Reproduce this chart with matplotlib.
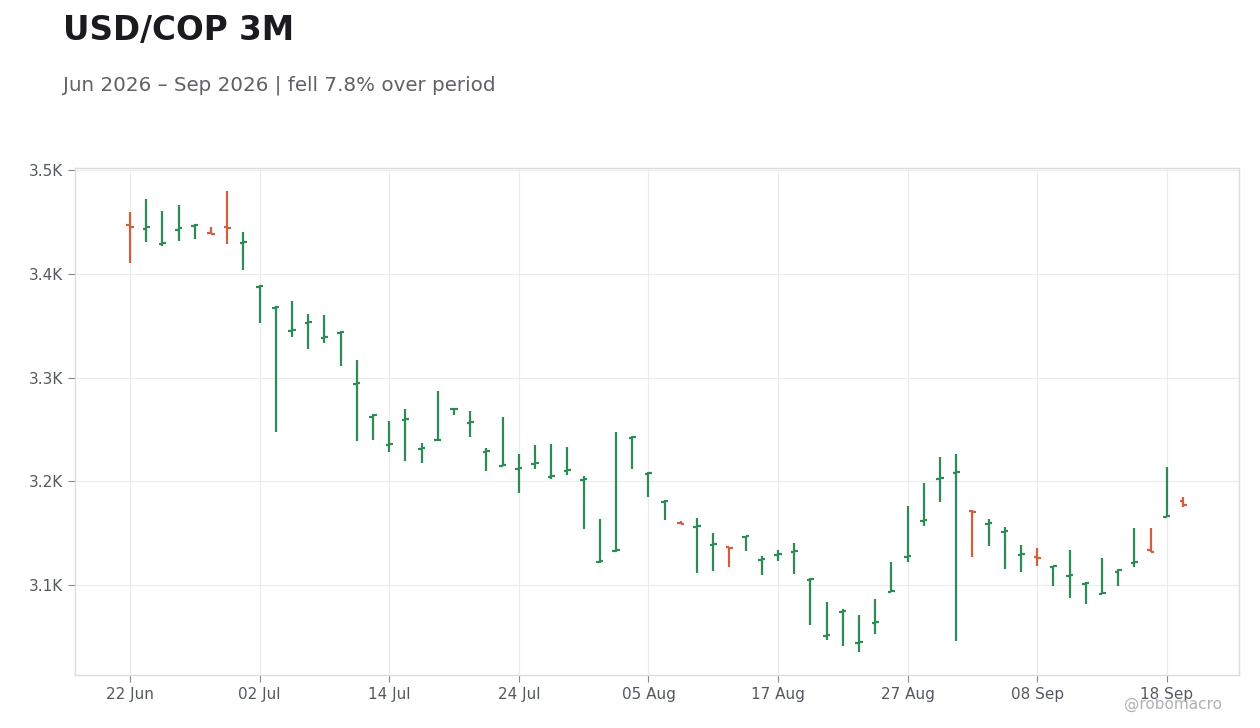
import matplotlib
matplotlib.use("Agg")
import matplotlib.pyplot as plt
import pandas as pd

# business days, 22 Jun 2026 .. 21 Sep 2026
dates = pd.bdate_range("2026-06-22", periods=66)

opens = [3447, 3443, 3429, 3442, 3446, 3439.5, 3445, 3430, 3387, 3367,
         3345, 3353, 3338, 3343, 3294, 3262, 3235, 3259, 3231.5, 3239.5,
         3269.5, 3256, 3228, 3215, 3212, 3216.5, 3204, 3210, 3201, 3122,
         3133, 3242, 3207, 3180, 3160, 3155.5, 3139, 3136.5, 3146, 3124,
         3129, 3132, 3105, 3051, 3074, 3044, 3063, 3093.5, 3127, 3161.5,
         3202, 3208, 3171, 3159, 3151.5, 3128.5, 3127, 3117, 3109, 3101,
         3091, 3113, 3121, 3133.5, 3166, 3181.5]
highs = [3460, 3472, 3461, 3466, 3448, 3445, 3480, 3440, 3389, 3369,
         3374, 3361, 3360, 3345, 3317, 3264.5, 3258, 3270, 3237, 3287,
         3271, 3268, 3232, 3262, 3226, 3235, 3236, 3233, 3205, 3164,
         3248, 3244, 3209, 3182, 3162, 3165, 3150, 3137, 3147, 3128,
         3134, 3141, 3107, 3084, 3077, 3071, 3086.5, 3122, 3176, 3198,
         3223, 3226, 3172, 3164, 3156, 3139, 3136, 3118, 3134, 3103,
         3126, 3115, 3155, 3155, 3214, 3185]
lows = [3410.5, 3431, 3427, 3432, 3434, 3438, 3429, 3404, 3353, 3248,
        3339, 3328, 3333, 3311, 3239, 3240, 3228.5, 3220, 3218, 3239,
        3264, 3243, 3210, 3215, 3189, 3212, 3202.5, 3206, 3154, 3121,
        3132, 3212, 3185, 3163, 3158.5, 3112, 3114, 3117.5, 3133, 3110,
        3123.5, 3111, 3061.5, 3047, 3041.5, 3035.5, 3053, 3093, 3122.5, 3157,
        3180, 3046, 3127, 3137.5, 3115.5, 3113, 3118.5, 3099, 3088, 3082,
        3091, 3099, 3117.5, 3131.5, 3166, 3175.5]
closes = [3445, 3445, 3430, 3444, 3447, 3438.5, 3444, 3431, 3388, 3368,
          3346, 3354, 3339, 3344, 3295, 3263.5, 3236, 3260, 3232.5, 3240,
          3270, 3257, 3229, 3216, 3213, 3217.5, 3205, 3211, 3202, 3123,
          3134, 3243, 3208, 3181, 3159, 3156.5, 3140, 3135.5, 3147, 3125,
          3130, 3133, 3106, 3052, 3075, 3045, 3064, 3094.5, 3128, 3162.5,
          3203, 3209, 3170, 3160, 3152.5, 3129.5, 3126, 3118, 3110, 3102,
          3092, 3114.5, 3122, 3132, 3167, 3177]

UP = "#2e8b57"
DOWN = "#cf5f3e"

fig = plt.figure(figsize=(12.6, 7.28), dpi=100)
ax = fig.add_axes([0.0595, 0.0728, 0.9238, 0.6964])

x = list(range(len(dates)))
colors = [UP if c >= o else DOWN for o, c in zip(opens, closes)]
tw = 0.22  # tick half length in bars

ax.vlines(x, lows, highs, colors=colors, linewidth=1.6, zorder=3)
ax.hlines(opens, [i - tw for i in x], x, colors=colors, linewidth=1.6, zorder=3)
ax.hlines(closes, x, [i + tw for i in x], colors=colors, linewidth=1.6, zorder=3)

ax.set_xlim(-3.4, 68.45)
ax.set_ylim(3013.3, 3502)

ticks = list(range(0, len(dates), 8))
ax.set_xticks(ticks)
ax.set_xticklabels([dates[i].strftime("%d %b") for i in ticks])
ax.set_yticks([3100, 3200, 3300, 3400, 3500])
ax.set_yticklabels(["3.1K", "3.2K", "3.3K", "3.4K", "3.5K"])

ax.grid(True, color="#ececec", linewidth=0.8, zorder=0)
ax.set_axisbelow(True)
for s in ax.spines.values():
    s.set_color("#dcdcdc")
    s.set_linewidth(1.0)
ax.tick_params(colors="#55595f", labelsize=11, length=5, width=0.8)
ax.tick_params(axis="both", color="#888888")

fig.text(0.05, 0.958, "USD/COP 3M", fontsize=23.5, fontweight="bold",
         color="#1a1a1f", va="center", ha="left")
fig.text(0.05, 0.883, "Jun 2026 \u2013 Sep 2026 | fell 7.8% over period",
         fontsize=14.3, color="#5f6068", va="center", ha="left")
fig.text(0.97, 0.032, "@robomacro", fontsize=11, color="#b0b0b0",
         va="center", ha="right")

fig.savefig("out.png", dpi=100)
